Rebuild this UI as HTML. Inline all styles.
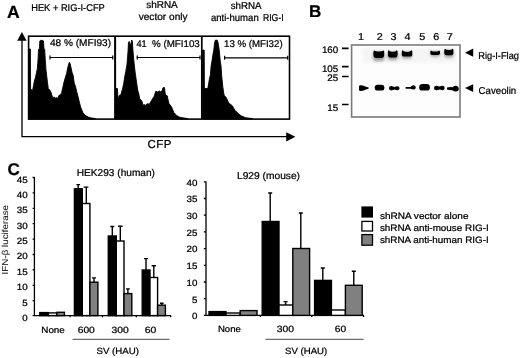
<!DOCTYPE html>
<html><head><meta charset="utf-8"><title>Figure</title>
<style>
html,body{margin:0;padding:0;background:#fff;}
svg{display:block;font-family:"Liberation Sans",Arial,sans-serif;fill:#000;}
text{stroke:#000;stroke-width:.24px;text-rendering:geometricPrecision;}
.t{font-size:10px;}
.c{font-size:9px;}
.g{font-size:9.8px;}
.l{font-size:9.3px;}
.b{font-weight:bold;font-size:17px;fill:#000;}
</style></head><body>
<svg width="520" height="358" viewBox="0 0 520 358">
<defs>
<filter id="bl" x="-20%" y="-50%" width="140%" height="200%"><feGaussianBlur stdDeviation="0.65"/></filter>
<filter id="bl2" x="-20%" y="-50%" width="140%" height="200%"><feGaussianBlur stdDeviation="1.6"/></filter>
</defs>
<rect width="520" height="358" fill="#fff"/>

<!-- ===== Panel A ===== -->
<g id="panelA">
<text class="b" x="7" y="17.7" style="font-size:17.6px">A</text>
<text class="t" style="font-size:9.8px" x="31.2" y="11.3" textLength="73.6" lengthAdjust="spacingAndGlyphs">HEK + RIG-I-CFP</text>
<text class="t" x="146.2" y="7.7" textLength="31.6" lengthAdjust="spacingAndGlyphs">shRNA</text>
<text class="t" x="138.7" y="19.5" textLength="48.9" lengthAdjust="spacingAndGlyphs">vector only</text>
<text class="t" x="230.7" y="8.8" textLength="30.9" lengthAdjust="spacingAndGlyphs">shRNA</text>
<text class="t" x="210.9" y="20.7" textLength="47.8" lengthAdjust="spacingAndGlyphs">anti-human</text><text class="t" x="262.9" y="20.7" textLength="20.8" lengthAdjust="spacingAndGlyphs">RIG-I</text>

<!-- axes -->
<path d="M22 40 V136.6 H287" fill="none" stroke="#000" stroke-width="1.3"/>
<path d="M21.9 31.9 L26.6 40.7 H17.2 Z" fill="#000"/>
<path d="M295.4 136.8 L286.2 132.2 V141.4 Z" fill="#000"/>

<!-- histograms -->
<path id="h1" fill="#000" stroke="#000" stroke-width="0.9" stroke-linejoin="round" d="M28.6 119 V49 L30.4 49 L30.6 89 L32.5 90.5 L33.5 86 L34.2 81.8 L35.6 77 L36.6 72 L37.3 69.1 L37.8 63 L38.2 57.3 L38.5 49.6 L39.5 48.2 L39.8 41 L40.4 40.4 L42.9 40.4 L43.5 41 L43.9 48.2 L44.7 49.6 L45.1 57.3 L45.5 63 L45.9 69.1 L46.6 75 L47.4 82 L48.3 88.5 L49.8 90 L51.2 92.7 L52.1 96 L52.8 97.7 L54.3 97 L55 98.5 L56 97.5 L57.5 98.5 L59.2 95.2 L60.8 94.5 L61.6 92.7 L62.7 88 L64.1 81.8 L65.2 78 L66.6 73.4 L67.7 68 L68.7 64 L69.4 62.3 L70.2 64 L71.1 68 L72.2 73 L73.1 75 L74.2 83 L75.6 86.8 L76.8 92 L78.1 96.8 L79.3 102 L80.6 106.9 L81.8 110 L83 112.8 L84.7 114.8 L86.4 116.1 L88.2 117 L90.6 117.8 L95.4 118.6 V119 Z"/>
<path id="h2" fill="#000" stroke="#000" stroke-width="0.9" stroke-linejoin="round" d="M116 119 V88.5 L117.4 88.5 L117.8 96 L118.4 99.4 L119 96 L119.5 95.2 L120.3 95.5 L121.2 93.5 L122.5 89 L123.7 83.4 L124.7 77 L125.7 71.7 L126.9 65 L127.6 57 L128.1 50 L128.5 42.2 L129.2 41.5 L130 45 L130.8 44 L131.8 40 L132.4 42 L132.9 49.8 L133.6 58 L134.3 65 L135.1 72 L136 78.4 L136.8 84 L137.7 90.1 L138.8 94 L139.7 98.5 L140.8 100 L141.8 101 L142.4 103 L143 105.2 L144.3 104.6 L145.5 105.4 L146.8 104 L148 103.6 L149 104.4 L149.7 104 L150.5 102 L151.4 101 L152.6 98.5 L153.9 96.8 L154.9 94 L155.9 91 L157 92 L158.1 91.8 L159.4 91 L160.6 91.8 L161.5 91 L162.3 91 L162.8 88 L163.1 87.6 L164.5 87.6 L164.9 91 L165.3 94.3 L166.3 95 L167.3 96 L168.1 100 L169 103.6 L170.2 105 L171.5 106.9 L172.8 110 L174 112.8 L175.2 114 L176.5 115.3 L178.2 116.5 L179.9 117.3 L184 118 L188 118.6 V119 Z"/>
<path id="h3" fill="#000" stroke="#000" stroke-width="0.9" stroke-linejoin="round" d="M202.6 119 V50 L204.2 50 L204.4 88 L204.9 88.5 L207.8 88.5 L208.6 84 L209.5 78.4 L210.4 74.9 L211.1 66 L211.9 61.5 L212.9 55 L213.8 49.8 L214.6 43 L215.3 40.2 L217.4 40.2 L218.1 43 L219.2 49.8 L219.8 56 L220.3 61.5 L221 66 L221.6 75 L222.2 81 L222.8 86.8 L223.4 91 L224.1 95.2 L225.4 96.5 L226.7 98.5 L228 101.5 L229.2 103.6 L230.8 104.5 L232.5 106 L233.8 108.5 L235 110.3 L236.7 112 L238.4 113.6 L240 115 L241.7 116.1 L245.9 117.8 L252.6 118.6 V119 Z"/>

<!-- box -->
<rect x="28.6" y="36.2" width="260.9" height="82.9" fill="none" stroke="#000" stroke-width="1.6"/>
<path d="M115.1 36 V119" stroke="#000" stroke-width="2" fill="none"/><path d="M201.8 36 V119" stroke="#000" stroke-width="1.7" fill="none"/>

<!-- gates -->
<path d="M50 57.5 H112.8 M50 55.5 V59.5 M112.8 55.5 V59.5 M137.2 57.5 H200 M137.2 55.5 V59.5 M200 55.4 V59.4 M224.6 57.8 H287.7 M224.6 55.8 V59.8 M287.7 55.8 V59.8" stroke="#000" stroke-width="1.2" fill="none"/>
<text class="g" x="50" y="45.9" textLength="61" lengthAdjust="spacingAndGlyphs">48 % (MFI93)</text>
<text class="g" x="136.4" y="46.6" textLength="10.3" lengthAdjust="spacingAndGlyphs">41</text><text class="g" x="152" y="46.6" textLength="47.8" lengthAdjust="spacingAndGlyphs">% (MFI103</text>
<text class="g" x="224" y="46.8" textLength="58.6" lengthAdjust="spacingAndGlyphs">13 % (MFI32)</text>
<text x="147.5" y="148.1" font-size="11.5" textLength="23.8" lengthAdjust="spacing">CFP</text>
</g>

<!-- ===== Panel B ===== -->
<g id="panelB">
<text class="b" x="309" y="17">B</text>
<g style="font-size:10px"><text x="357.9" y="39.5" textLength="6" lengthAdjust="spacingAndGlyphs">1</text><text x="376.8" y="39.5" textLength="6" lengthAdjust="spacingAndGlyphs">2</text><text x="390.5" y="39.5" textLength="6" lengthAdjust="spacingAndGlyphs">3</text><text x="404.6" y="39.5" textLength="6" lengthAdjust="spacingAndGlyphs">4</text><text x="419.3" y="39.5" textLength="6" lengthAdjust="spacingAndGlyphs">5</text><text x="433.3" y="39.5" textLength="6" lengthAdjust="spacingAndGlyphs">6</text><text x="446.7" y="39.5" textLength="6" lengthAdjust="spacingAndGlyphs">7</text></g>
<rect x="351.6" y="45" width="108.4" height="72" fill="#fdfdfd" stroke="#7a7a7a" stroke-width="1.6"/>
<g style="font-size:9.5px"><text x="321.9" y="53.4" textLength="16.3" lengthAdjust="spacingAndGlyphs">160</text><text x="321.9" y="71.5" textLength="16.3" lengthAdjust="spacingAndGlyphs">105</text><text x="327.3" y="81.1" textLength="10.9" lengthAdjust="spacingAndGlyphs">25</text><text x="327.3" y="111.4" textLength="10.9" lengthAdjust="spacingAndGlyphs">15</text></g>
<path d="M342 48.4 H348.6 M342 66.6 H348.6 M342 76.5 H348.6 M342 104.5 H348.6" stroke="#000" stroke-width="1.7"/>
<!-- bands upper -->
<rect x="362" y="48" width="94" height="15" fill="#f5f5f5" filter="url(#bl2)"/>
<g filter="url(#bl2)" fill="#999">
<rect x="373" y="52" width="11.4" height="9" rx="3"/><rect x="387.6" y="52" width="10.4" height="8" rx="3"/><rect x="401.6" y="52" width="10.4" height="6.5" rx="3"/><rect x="430.6" y="51.5" width="9.4" height="5" rx="2"/><rect x="444.2" y="50.5" width="9.4" height="7" rx="3"/>
</g>
<g filter="url(#bl)" fill="#000">
<path d="M374.2 50.6 Q375.4 51.6 378.8 51.6 Q382.2 51.6 383.4 50.6 Q384.2 50.6 384.2 52.1 L384.2 55.0 Q384.2 58.0 381.2 58.0 L376.4 58.0 Q373.4 58.0 373.4 55.0 L373.4 52.1 Q373.4 50.6 374.2 50.6 Z"/>
<path d="M388.7 50.2 Q389.9 51.8 392.8 51.8 Q395.6 51.8 396.8 50.2 Q397.6 50.2 397.6 51.7 L397.6 54.7 Q397.6 57.5 394.8 57.5 L390.7 57.5 Q387.9 57.5 387.9 54.7 L387.9 51.7 Q387.9 50.2 388.7 50.2 Z"/>
<path d="M402.6 50.2 Q403.8 52.0 407.1 52.0 Q410.3 52.0 411.5 50.2 Q412.3 50.2 412.3 51.7 L412.3 54.4 Q412.3 56.6 410.1 56.6 L404.0 56.6 Q401.8 56.6 401.8 54.4 L401.8 51.7 Q401.8 50.2 402.6 50.2 Z"/>
<path d="M431.1 50.4 Q432.3 51.6 435.1 51.6 Q438.0 51.6 439.2 50.4 Q440.0 50.4 440.0 51.9 L440.0 53.2 Q440.0 55.0 438.2 55.0 L432.1 55.0 Q430.3 55.0 430.3 53.2 L430.3 51.9 Q430.3 50.4 431.1 50.4 Z"/>
<path d="M445.1 48.8 Q446.3 50.0 448.9 50.0 Q451.4 50.0 452.6 48.8 Q453.4 48.8 453.4 50.3 L453.4 53.1 Q453.4 55.3 451.2 55.3 L446.5 55.3 Q444.3 55.3 444.3 53.1 L444.3 50.3 Q444.3 48.8 445.1 48.8 Z"/>
<!-- lower -->
<path d="M359 86.4 Q359 85 361 85.2 Q364 85.6 366 86.8 L368.6 87.6 V88.8 L366 89.4 Q364 90.8 361 91 Q359 91.2 359 89.8 Z"/>
<rect x="374.7" y="84.7" width="9.7" height="5.9" rx="2.9"/>
<path d="M389 88.2 Q389 85.9 391.4 86 Q393.2 86.3 394.4 87 Q396 86.3 397.6 86.2 Q399.5 86.2 399.5 88.2 Q399.5 90.2 397.4 90.3 Q395.6 90.2 394.4 89.6 Q393 90.3 391.2 90.4 Q389 90.3 389 88.2 Z"/>
<path d="M405.6 87 H410.5 Q411.8 85.2 413.8 85.3 Q415.8 85.6 415.8 87.5 Q415.8 89.4 413.6 89.6 Q411.6 89.5 410.4 88.8 H405.6 Z"/>
<rect x="419.2" y="83.9" width="10.7" height="6.7" rx="3.2"/>
<path d="M434 87.9 Q434 85.7 436.4 85.7 Q439 86.3 440 86.4 Q441.4 85.6 443 85.8 Q444.7 86 444.7 88 Q444.7 90 442.8 90.2 Q441 90.2 439.8 89.6 Q438 90.2 436.2 90.2 Q434 90.1 434 87.9 Z"/>
<path d="M447 87.6 Q450 86.6 452.6 87.2 Q454 85.7 456.2 85.8 Q458.8 86.2 458.8 88.7 Q458.8 91.4 456 91.5 Q453.8 91.4 452.4 90.2 Q449.6 90.4 447 89.6 Z"/>
</g>
<path d="M465 52.7 L473.2 48.6 V56.8 Z M465 88.1 L473.2 84.2 V92 Z" fill="#000"/>
<text class="t" x="478.2" y="59.2" textLength="40.8" lengthAdjust="spacingAndGlyphs">Rig-I-Flag</text>
<text class="t" x="478.6" y="94.4" textLength="37.6" lengthAdjust="spacingAndGlyphs">Caveolin</text>
</g>

<!-- ===== Panel C ===== -->
<g id="panelC">
<text class="b" x="7.4" y="175">C</text>
<text class="t" style="font-size:8.6px;stroke-width:.1px" fill="#2a2a2a" transform="translate(7.9 274.4) rotate(-90)" textLength="69.4" lengthAdjust="spacingAndGlyphs">IFN-β luciferase</text>
<text class="t" x="76.8" y="176.1" textLength="78.2" lengthAdjust="spacingAndGlyphs">HEK293 (human)</text>
<text class="t" x="237" y="178.6" textLength="63" lengthAdjust="spacingAndGlyphs">L929 (mouse)</text>

<!-- left chart axis -->
<g>
<text class="c" x="16.7" y="182.7" textLength="10.9" lengthAdjust="spacingAndGlyphs">45</text>
<text class="c" x="16.7" y="198.1" textLength="10.9" lengthAdjust="spacingAndGlyphs">40</text>
<text class="c" x="16.7" y="213.4" textLength="10.9" lengthAdjust="spacingAndGlyphs">35</text>
<text class="c" x="16.7" y="228.8" textLength="10.9" lengthAdjust="spacingAndGlyphs">30</text>
<text class="c" x="16.7" y="244.1" textLength="10.9" lengthAdjust="spacingAndGlyphs">25</text>
<text class="c" x="16.7" y="259.4" textLength="10.9" lengthAdjust="spacingAndGlyphs">20</text>
<text class="c" x="16.7" y="274.8" textLength="10.9" lengthAdjust="spacingAndGlyphs">15</text>
<text class="c" x="16.7" y="290.1" textLength="10.9" lengthAdjust="spacingAndGlyphs">10</text>
<text class="c" x="22.2" y="305.5" textLength="5.4" lengthAdjust="spacingAndGlyphs">5</text>
<text class="c" x="22.2" y="320.8" textLength="5.4" lengthAdjust="spacingAndGlyphs">0</text>
</g>
<path d="M34.4 177 V315.6 H171 M32.6 177.5 H34.4 M32.6 192.9 H34.4 M32.6 208.3 H34.4 M32.6 223.7 H34.4 M32.6 239.1 H34.4 M32.6 254.5 H34.4 M32.6 269.9 H34.4 M32.6 285.3 H34.4 M32.6 300.7 H34.4 M32.6 315.6 H34.4 M70 315.6 V317.2 M102.5 315.6 V317.2 M136.3 315.6 V317.2 M170.6 315.6 V317.2" fill="none" stroke="#000" stroke-width="1.3"/>
<!-- bars left -->
<g stroke="#000" stroke-width="1.4">
<rect x="39.8" y="312.6" width="8.6" height="3" fill="#000"/>
<rect x="48.4" y="312.9" width="8.6" height="2.7" fill="#fff"/>
<rect x="57" y="312.3" width="7.4" height="3.3" fill="#808080"/>
<path d="M78.2 188.8 V184.6 M76.4 184.6 H80.1 M86.3 203.5 V187.1 M83.6 187.1 H88.4 M94 282.2 V277.9 M92 277.9 H96" fill="none"/>
<rect x="74.4" y="188.8" width="7.9" height="126.8" fill="#000"/>
<rect x="82.3" y="203.5" width="7.6" height="112.1" fill="#fff"/>
<rect x="89.9" y="282.2" width="8" height="33.4" fill="#808080"/>
<path d="M112.3 236 V226.5 M110.3 226.5 H114.3 M120.3 241 V226.2 M118 226.2 H122.6 M127.9 293.6 V288.9 M126 288.9 H129.8" fill="none"/>
<rect x="108.3" y="236" width="8" height="79.6" fill="#000"/>
<rect x="116.3" y="241" width="7.7" height="74.6" fill="#fff"/>
<rect x="124" y="293.6" width="7.8" height="22" fill="#808080"/>
<path d="M146 270 V258.6 M144 258.6 H148 M153.8 277.5 V265.7 M151.6 265.7 H156 M161.8 305 V303.2 M160 303.2 H163.6" fill="none"/>
<rect x="142.2" y="270" width="7.8" height="45.6" fill="#000"/>
<rect x="150" y="277.5" width="7.6" height="38.1" fill="#fff"/>
<rect x="157.6" y="305.2" width="7.8" height="10.4" fill="#808080"/>
</g>
<g><text class="c" x="41.3" y="332.6" textLength="23.5" lengthAdjust="spacingAndGlyphs">None</text><text class="c" x="77.7" y="332.6" textLength="17.1" lengthAdjust="spacingAndGlyphs">600</text><text class="c" x="111.5" y="332.6" textLength="17.3" lengthAdjust="spacingAndGlyphs">300</text><text class="c" x="144.8" y="332.6" textLength="11.6" lengthAdjust="spacingAndGlyphs">60</text><text class="c" x="96.5" y="353.9" textLength="42.5" lengthAdjust="spacingAndGlyphs">SV (HAU)</text></g>
<path d="M72.5 339.4 H169.5" stroke="#6e6e6e" stroke-width="1.4"/>

<!-- right chart axis -->
<g>
<text class="c" x="186.6" y="185.6" textLength="10.9" lengthAdjust="spacingAndGlyphs">40</text>
<text class="c" x="186.6" y="202.3" textLength="10.9" lengthAdjust="spacingAndGlyphs">35</text>
<text class="c" x="186.6" y="219.0" textLength="10.9" lengthAdjust="spacingAndGlyphs">30</text>
<text class="c" x="186.6" y="235.7" textLength="10.9" lengthAdjust="spacingAndGlyphs">25</text>
<text class="c" x="186.6" y="252.4" textLength="10.9" lengthAdjust="spacingAndGlyphs">20</text>
<text class="c" x="186.6" y="269.1" textLength="10.9" lengthAdjust="spacingAndGlyphs">15</text>
<text class="c" x="186.6" y="285.8" textLength="10.9" lengthAdjust="spacingAndGlyphs">10</text>
<text class="c" x="192.1" y="302.5" textLength="5.4" lengthAdjust="spacingAndGlyphs">5</text>
<text class="c" x="192.1" y="319.2" textLength="5.4" lengthAdjust="spacingAndGlyphs">0</text>
</g>
<path d="M206 181.4 V315.4 H364 M203.8 181.8 H206 M203.8 198.5 H206 M203.8 215.2 H206 M203.8 231.9 H206 M203.8 248.6 H206 M203.8 265.3 H206 M203.8 282 H206 M203.8 298.7 H206 M203.8 315.4 H206 M260.4 315.4 V317 M311.8 315.4 V317 M363.6 315.4 V317" fill="none" stroke="#000" stroke-width="1.3"/>
<g stroke="#000" stroke-width="1.4">
<rect x="209" y="311.6" width="17" height="3.8" fill="#000"/>
<rect x="226" y="313" width="14.2" height="2.4" fill="#fff"/>
<rect x="240.2" y="310.6" width="16.8" height="4.8" fill="#808080"/>
<path d="M270.2 221.5 V193 M268.2 193 H272.2 M285.6 305 V301.6 M283.6 301.6 H287.6 M300.8 248.5 V213 M298.8 213 H302.8" fill="none"/>
<rect x="262.2" y="221.5" width="16.8" height="93.9" fill="#000"/>
<rect x="279" y="305" width="13.8" height="10.4" fill="#fff"/>
<rect x="292.8" y="248.5" width="16.8" height="66.9" fill="#808080"/>
<path d="M322.8 280.4 V268 M320.8 268 H324.8 M353.8 285.3 V271.2 M351.8 271.2 H355.8" fill="none"/>
<rect x="314.6" y="280.4" width="16.8" height="35" fill="#000"/>
<rect x="331.4" y="310" width="14" height="5.4" fill="#fff"/>
<rect x="345.4" y="285.3" width="16.8" height="30.1" fill="#808080"/>
</g>
<g><text class="c" x="217.9" y="332.0" textLength="22.9" lengthAdjust="spacingAndGlyphs">None</text><text class="c" x="276.7" y="332.0" textLength="17.3" lengthAdjust="spacingAndGlyphs">300</text><text class="c" x="334.8" y="332.0" textLength="11.4" lengthAdjust="spacingAndGlyphs">60</text><text class="c" x="285" y="353.7" textLength="42.2" lengthAdjust="spacingAndGlyphs">SV (HAU)</text></g>
<path d="M265.5 339.4 H363.6" stroke="#6e6e6e" stroke-width="1.4"/>

<!-- legend -->
<rect x="361.4" y="206.4" width="11.6" height="11.2" fill="#000"/>
<rect x="361.9" y="221.4" width="10.6" height="9.6" fill="#fff" stroke="#000" stroke-width="1.3"/>
<rect x="361.9" y="234.6" width="10.6" height="10.6" fill="#808080" stroke="#000" stroke-width="1.3"/>
<text class="l" x="379.9" y="219" textLength="88.6" lengthAdjust="spacingAndGlyphs">shRNA vector alone</text>
<text class="l" x="379.9" y="230.6" textLength="108.8" lengthAdjust="spacingAndGlyphs">shRNA anti-mouse RIG-I</text>
<text class="l" x="379.9" y="242.6" textLength="108.8" lengthAdjust="spacingAndGlyphs">shRNA anti-human RIG-I</text>
</g>
</svg>
</body></html>
